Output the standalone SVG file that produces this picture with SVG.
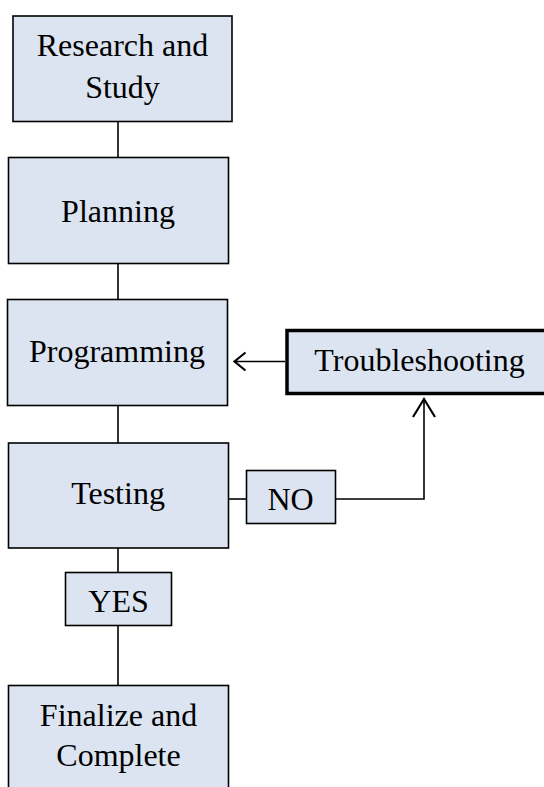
<svg xmlns="http://www.w3.org/2000/svg" width="544" height="787" viewBox="0 0 544 787">
  <style>
    .box { fill: #dbe4f0; stroke: #000; stroke-width: 1.6; }
    .box-bold { fill: #dbe4f0; stroke: #000; stroke-width: 3.5; }
    .label { font-family: "Liberation Serif", "Times New Roman", serif; font-size: 32px; fill: #000; text-anchor: middle; }
    .wire { fill: none; stroke: #000; stroke-width: 1.6; }
    .wire-head { fill: none; stroke: #000; stroke-width: 2.2; stroke-linejoin: miter; }
  </style>
  <rect width="544" height="787" fill="#fff"/>

  <!-- connectors -->
  <g id="connectors">
    <line class="wire" x1="118" y1="122" x2="118" y2="157"/>
    <line class="wire" x1="118" y1="264" x2="118" y2="299"/>
    <line class="wire" x1="118" y1="406" x2="118" y2="443"/>
    <line class="wire" x1="118" y1="548" x2="118" y2="572"/>
    <line class="wire" x1="118" y1="626" x2="118" y2="685"/>
    <line class="wire" x1="229" y1="499" x2="246" y2="499"/>
    <!-- NO branch up to Troubleshooting -->
    <polyline class="wire" points="336,499 424,499 424,398"/>
    <polyline class="wire-head" points="413,417 424,399 435,417"/>
    <!-- Troubleshooting back to Programming -->
    <line class="wire" x1="285" y1="361.5" x2="235" y2="361.5"/>
    <polyline class="wire-head" points="245.5,352.5 234.5,361.5 245.5,370.5"/>
  </g>

  <g id="research">
    <rect class="box" x="13" y="16" width="219" height="105.5"/>
    <text class="label" x="122.5" y="56">Research and</text>
    <text class="label" x="122.5" y="98">Study</text>
  </g>

  <g id="planning">
    <rect class="box" x="8.5" y="157.5" width="220" height="106"/>
    <text class="label" x="118" y="222">Planning</text>
  </g>

  <g id="programming">
    <rect class="box" x="7.5" y="299.5" width="220" height="106"/>
    <text class="label" x="117" y="362">Programming</text>
  </g>

  <g id="troubleshooting">
    <rect class="box-bold" x="287" y="330.5" width="280" height="63"/>
    <text class="label" x="419.5" y="371">Troubleshooting</text>
  </g>

  <g id="testing">
    <rect class="box" x="8.5" y="443" width="220" height="105"/>
    <text class="label" x="118" y="504">Testing</text>
  </g>

  <g id="no">
    <rect class="box" x="246.5" y="470.5" width="89" height="53"/>
    <text class="label" x="290.5" y="510">NO</text>
  </g>

  <g id="yes">
    <rect class="box" x="65.5" y="572.5" width="106" height="53"/>
    <text class="label" x="118.5" y="612">YES</text>
  </g>

  <g id="finalize">
    <rect class="box" x="8.5" y="685.5" width="220" height="120"/>
    <text class="label" x="118.5" y="726">Finalize and</text>
    <text class="label" x="118.5" y="766">Complete</text>
  </g>
</svg>
